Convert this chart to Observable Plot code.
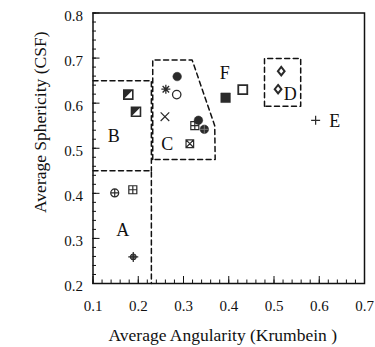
<!DOCTYPE html>
<html><head><meta charset="utf-8">
<script src="https://cdn.jsdelivr.net/npm/d3@7"></script>
<script src="https://cdn.jsdelivr.net/npm/@observablehq/plot@0.6"></script>
<style>body{margin:0;background:#fff} svg text{font-family:"Liberation Serif",serif}</style>
</head><body><div id="chart"></div>
<script>
// ---- data ----
const angularity = [0.286, 0.261, 0.285, 0.178, 0.195, 0.259, 0.333, 0.325, 0.346, 0.314, 0.393, 0.431, 0.516, 0.509, 0.592, 0.148, 0.188, 0.189];
const sphericity = [0.659, 0.631, 0.619, 0.619, 0.581, 0.570, 0.562, 0.550, 0.542, 0.510, 0.612, 0.630, 0.671, 0.631, 0.562, 0.401, 0.408, 0.259];
const markerType = ["filledCircle","asterisk","openCircle","halfSquare","halfSquare","cross","filledCircle","gridSquare","filledCirclePlus","boxX","filledSquare","openSquare","diamond","diamond","plus","circlePlus","gridSquare","crosshair"];

const groupLetters = ["A","B","C","D","E","F"];
const groupX = [0.166, 0.146, 0.264, 0.536, 0.634, 0.391];
const groupY = [0.319, 0.527, 0.510, 0.619, 0.560, 0.666];

const boxA = [[0.1,0.45],[0.229,0.45],[0.229,0.2]];
const boxB = [[0.1,0.65],[0.229,0.65],[0.229,0.45]];
const boxC = [[0.232,0.475],[0.232,0.696],[0.319,0.696],[0.369,0.55],[0.370,0.475],[0.232,0.475]];
const boxD = [[0.479,0.593],[0.479,0.699],[0.559,0.699],[0.559,0.593],[0.479,0.593]];

const xTicks = [0.1,0.2,0.3,0.4,0.5,0.6,0.7];
const yTicks = [0.2,0.3,0.4,0.5,0.6,0.7,0.8];
const xMinor = d3.ticks(0.1, 0.7, 30);
const yMinor = d3.ticks(0.2, 0.8, 30);

const xTitle = "Average Angularity (Krumbein )";
const yTitle = "Average Sphericity (CSF)";

const points = angularity.map((x, i) => ({x, y: sphericity[i], type: markerType[i]}));
const groups = groupLetters.map((t, i) => ({t, x: groupX[i], y: groupY[i]}));

// ---- custom symbols ----
const R = s => Math.sqrt(s / Math.PI);
const symSquare = {draw(c, s){const r=R(s); c.rect(-r,-r,2*r,2*r);}};
const symTri = {draw(c, s){const r=R(s); c.moveTo(-r,-r); c.lineTo(r,-r); c.lineTo(-r,r); c.closePath();}};
const symGrid = {draw(c, s){const r=R(s); c.rect(-r,-r,2*r,2*r); c.moveTo(0,-r); c.lineTo(0,r); c.moveTo(-r,0); c.lineTo(r,0);}};
const symBoxX = {draw(c, s){const r=R(s); c.rect(-r,-r,2*r,2*r); c.moveTo(-r,-r); c.lineTo(r,r); c.moveTo(r,-r); c.lineTo(-r,r);}};
const symCircle = {draw(c, s){const r=R(s); c.moveTo(r,0); c.arc(0,0,r,0,2*Math.PI);}};
const symCirclePlus = {draw(c, s){const r=R(s); c.moveTo(r,0); c.arc(0,0,r,0,2*Math.PI); c.moveTo(0,-r); c.lineTo(0,r); c.moveTo(-r,0); c.lineTo(r,0);}};
const symPlus = {draw(c, s){const r=R(s); c.moveTo(0,-r); c.lineTo(0,r); c.moveTo(-r,0); c.lineTo(r,0);}};
const symCross = {draw(c, s){const r=R(s); c.moveTo(-r,-r); c.lineTo(r,r); c.moveTo(r,-r); c.lineTo(-r,r);}};
const symAst = {draw(c, s){const r=R(s), d=r*0.72; c.moveTo(0,-r); c.lineTo(0,r); c.moveTo(-r,0); c.lineTo(r,0); c.moveTo(-d,-d); c.lineTo(d,d); c.moveTo(d,-d); c.lineTo(-d,d);}};
const symDiamond = {draw(c, s){const r=R(s); c.moveTo(0,-r); c.lineTo(r*0.8,0); c.lineTo(0,r); c.lineTo(-r*0.8,0); c.closePath();}};

const dark = "#2a2a2a";
const layers = [
  {type:"gridSquare", symbol:symGrid, r:4, fill:"white", stroke:dark, sw:1.2},
  {type:"halfSquare", symbol:symSquare, r:4.5, fill:"white", stroke:dark, sw:1.6},
  {type:"halfSquare", symbol:symTri, r:4.5, fill:dark, stroke:"none", sw:0},
  {type:"openSquare", symbol:symSquare, r:4.5, fill:"white", stroke:dark, sw:1.8},
  {type:"filledSquare", symbol:symSquare, r:4.8, fill:dark, stroke:dark, sw:0.5},
  {type:"boxX", symbol:symBoxX, r:3.8, fill:"white", stroke:dark, sw:1.2},
  {type:"openCircle", symbol:symCircle, r:4.2, fill:"white", stroke:dark, sw:1.3},
  {type:"filledCircle", symbol:symCircle, r:4.3, fill:dark, stroke:dark, sw:0.5},
  {type:"filledCirclePlus", symbol:symCircle, r:4.3, fill:dark, stroke:dark, sw:0.5},
  {type:"filledCirclePlus", symbol:symPlus, r:4.3, fill:"none", stroke:"#888", sw:0.8},
  {type:"asterisk", symbol:symAst, r:4.5, fill:"none", stroke:dark, sw:1.3},
  {type:"cross", symbol:symCross, r:4.3, fill:"none", stroke:dark, sw:1.2},
  {type:"plus", symbol:symPlus, r:4.5, fill:"none", stroke:dark, sw:1.2},
  {type:"circlePlus", symbol:symCirclePlus, r:4, fill:"white", stroke:dark, sw:1.2},
  {type:"crosshair", symbol:symCircle, r:3, fill:"#666", stroke:dark, sw:1},
  {type:"crosshair", symbol:symPlus, r:5, fill:"none", stroke:dark, sw:1.2},
  {type:"diamond", symbol:symDiamond, r:4.2, fill:"white", stroke:dark, sw:2}
];

const mL = 92.5, mR = 11, mT = 12.5, mB = 64, W = 375, H = 347;
const fW = W - mL - mR, fH = H - mT - mB;
const dash = {stroke:"#111", strokeWidth:1.5, strokeDasharray:"5,3.5"};
const serif = "Liberation Serif";

const chart = Plot.plot({
  width: W, height: H,
  marginLeft: mL, marginRight: mR, marginTop: mT, marginBottom: mB,
  style: {fontFamily: serif, background: "white", color: "#111"},
  x: {domain: [0.1, 0.7]},
  y: {domain: [0.2, 0.8]},
  marks: [
    Plot.ruleX(xMinor, {x: d => d, insetTop: fH - 3.5, stroke: "#111"}),
    Plot.ruleX(xTicks, {x: d => d, insetTop: fH - 7, stroke: "#111"}),
    Plot.ruleY(yMinor, {y: d => d, insetRight: fW - 3.5, stroke: "#111"}),
    Plot.ruleY(yTicks, {y: d => d, insetRight: fW - 7, stroke: "#111"}),
    Plot.axisX(xTicks, {tickSize: 0, tickPadding: 17, fontSize: 15, fontFamily: serif, label: null, tickFormat: d => d.toFixed(1)}),
    Plot.axisY(yTicks, {tickSize: 0, tickPadding: 10, dy: 3, fontSize: 15, fontFamily: serif, label: null, tickFormat: d => d.toFixed(1)}),
    Plot.frame({stroke: "#111", strokeWidth: 1.5}),
    Plot.line(boxA, {...dash}),
    Plot.line(boxB, {...dash}),
    Plot.line(boxC, {...dash}),
    Plot.line(boxD, {...dash}),
    ...layers.map(L => Plot.dot(points.filter(p => p.type === L.type), {
      x: "x", y: "y", symbol: () => L.symbol, r: L.r,
      fill: L.fill, stroke: L.stroke, strokeWidth: L.sw
    })),
    Plot.text(groups, {x: "x", y: "y", text: "t", fontSize: 18, fontFamily: serif, fill: "#111"}),
    Plot.text([xTitle], {frameAnchor: "bottom", lineAnchor: "middle", textAnchor: "middle", dy: 52, dx: -6, fontSize: 17.5, fontFamily: serif, fill: "#111"}),
    Plot.text([yTitle], {frameAnchor: "left", textAnchor: "middle", lineAnchor: "middle", dx: -52.5, dy: -26, rotate: -90, fontSize: 17.5, fontFamily: serif, fill: "#111"})
  ]
});
document.getElementById("chart").appendChild(chart);
</script>
</body></html>
